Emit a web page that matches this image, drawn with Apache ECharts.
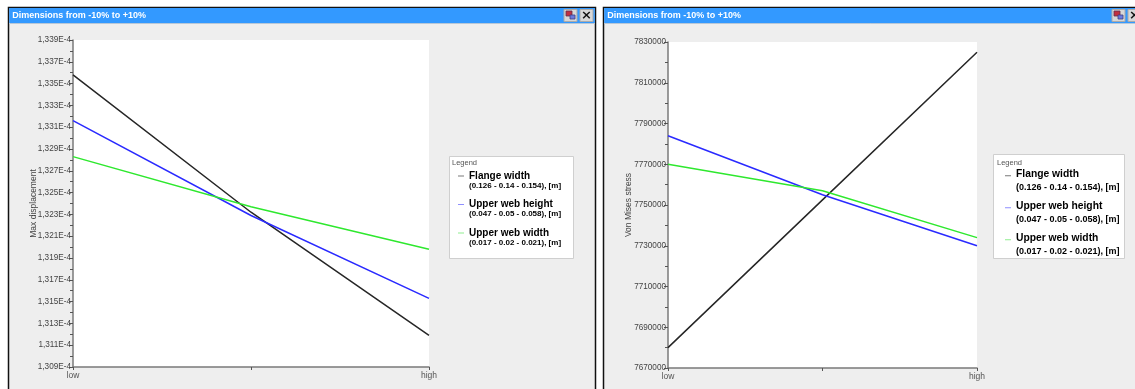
<!DOCTYPE html>
<html>
<head>
<meta charset="utf-8">
<script src="https://cdn.jsdelivr.net/npm/echarts@6/dist/echarts.min.js"></script>
<style>
html,body{margin:0;padding:0;background:#fff;}
#c{width:1135px;height:389px;}
</style>
</head>
<body>
<div id="c"></div>
<script>
// ---- data ----
const xLabels = ['low', '', 'high'];
const seriesNames = ['Flange width', 'Upper web height', 'Upper web width'];
const seriesRanges = ['(0.126 - 0.14 - 0.154), [m]', '(0.047 - 0.05 - 0.058), [m]', '(0.017 - 0.02 - 0.021), [m]'];
// Max displacement, in units of 1E-4
const dispFlangeE4 = [1.3358, 1.3232, 1.3119];
const dispWebHeightE4 = [1.3316, 1.3229, 1.3153];
const dispWebWidthE4 = [1.3283, 1.3237, 1.3198];
// Von Mises stress
const vmFlange = [7680000, 7752500, 7825000];
const vmWebHeight = [7784000, 7755000, 7730000];
const vmWebWidth = [7770000, 7757000, 7734000];

const lineColors = ['#262626', '#2a2aff', '#2ee82e'];
const legendColors = ['#7a7a7a', '#8f8fff', '#8fee8f'];
const FONT = 'Liberation Sans';

const chart = echarts.init(document.getElementById('c'), null, {renderer: 'canvas'});

function mkLegend(left, top, aSize, aLH, bSize, bLH, gap, iconH) {
  return {
    orient: 'vertical',
    left: left, top: top,
    itemGap: gap,
    itemWidth: 6, itemHeight: iconH,
    icon: 'path://M0,0h10v1.8h-10zM0,' + (iconH) + 'h0.05v0.05h-0.05z',
    textStyle: {
      fontFamily: FONT, color: '#000',
      rich: {
        a: {fontSize: aSize, fontWeight: 'bold', lineHeight: aLH, fontFamily: FONT, color: '#000'},
        b: {fontSize: bSize, fontWeight: 'bold', lineHeight: bLH, fontFamily: FONT, color: '#000'}
      }
    },
    formatter: function (name) {
      const i = seriesNames.indexOf(name.replace(/ $/, ''));
      return '{a|' + seriesNames[i] + '}\n{b|' + seriesRanges[i] + '}';
    },
    selectedMode: false
  };
}

function yAxisCommon(gridIndex, name, nameGap, min, max, interval, fmt) {
  return {
    type: 'value', gridIndex: gridIndex,
    min: min, max: max, interval: interval,
    name: name, nameLocation: 'middle', nameRotate: 90, nameGap: nameGap,
    nameMoveOverlap: false,
    nameTextStyle: {fontFamily: FONT, fontSize: 8.5, color: '#444'},
    axisLine: {show: true, lineStyle: {color: '#7a7a7a', width: 1.5}},
    axisTick: {show: true, length: 4, lineStyle: {color: '#555'}},
    minorTick: {show: true, splitNumber: 2, length: 3, lineStyle: {color: '#555'}},
    splitLine: {show: false},
    axisLabel: {fontFamily: FONT, fontSize: 8.2, color: '#444', margin: 2, formatter: fmt}
  };
}

function xAxisCommon(gridIndex) {
  return {
    type: 'category', gridIndex: gridIndex, data: xLabels, boundaryGap: false,
    axisLine: {show: true, lineStyle: {color: '#7a7a7a', width: 1.5}},
    axisTick: {show: true, length: 3, inside: false, lineStyle: {color: '#555'}},
    axisLabel: {fontFamily: FONT, fontSize: 8.5, color: '#555', margin: 4, interval: 0},
    splitLine: {show: false}
  };
}

function mkSeries(name, data, color, xi, yi) {
  return {
    type: 'line', name: name, data: data, xAxisIndex: xi, yAxisIndex: yi,
    symbol: 'none', smooth: false, animation: false,
    lineStyle: {color: color, width: 1.5}, itemStyle: {color: color}
  };
}

// names for right chart need to be distinct for separate legends
const rightNames = seriesNames.map(n => n + ' ');

function titleBar(x, w, iconX) {
  return [
    {type: 'rect', z: 50, shape: {x: x, y: 8, width: w, height: 15}, style: {fill: '#3399ff'}},
    {type: 'line', z: 50, shape: {x1: x, y1: 23.5, x2: x + w, y2: 23.5}, style: {stroke: '#b8c8d8', lineWidth: 1}},
    {type: 'text', z: 51, x: x + 3, y: 15.5, style: {text: 'Dimensions from -10% to +10%', fill: '#fff', font: 'bold 9px "Liberation Sans"', textVerticalAlign: 'middle'}},
    {type: 'rect', z: 51, shape: {x: iconX, y: 9.5, width: 13, height: 12}, style: {fill: '#d8d8d8', stroke: '#aaa', lineWidth: 1}},
    {type: 'rect', z: 52, shape: {x: iconX + 2, y: 11, width: 6, height: 5}, style: {fill: '#c03040', stroke: '#603050', lineWidth: 0.8}},
    {type: 'rect', z: 52, shape: {x: iconX + 6, y: 15, width: 5, height: 4}, style: {fill: '#6a7ae0', stroke: '#404080', lineWidth: 0.8}},
    {type: 'rect', z: 51, shape: {x: iconX + 16, y: 9.5, width: 13, height: 12}, style: {fill: '#d8d8d8', stroke: '#aaa', lineWidth: 1}},
    {type: 'text', z: 52, x: iconX + 22.5, y: 16, style: {text: '×', fill: '#111', font: 'bold 13px "DejaVu Sans"', textAlign: 'center', textVerticalAlign: 'middle'}}
  ];
}

const graphics = [
  {type: 'rect', z: -100, shape: {x: 8.5, y: 7.5, width: 587, height: 392}, style: {fill: '#eeeeee', stroke: '#111', lineWidth: 1.5}},
  {type: 'rect', z: -100, shape: {x: 603.5, y: 7.5, width: 540, height: 392}, style: {fill: '#eeeeee', stroke: '#111', lineWidth: 1.5}},
  ...titleBar(9.2, 585.6, 564),
  ...titleBar(604.2, 540, 1112),
  {type: 'rect', z: -50, shape: {x: 449.5, y: 156.5, width: 124, height: 102}, style: {fill: '#fff', stroke: '#cfcfcf', lineWidth: 1}},
  {type: 'text', z: 5, x: 452, y: 163, style: {text: 'Legend', fill: '#555', font: '7.5px "Liberation Sans"', textVerticalAlign: 'middle'}},
  {type: 'rect', z: -50, shape: {x: 993.5, y: 154.5, width: 131, height: 104}, style: {fill: '#fff', stroke: '#cfcfcf', lineWidth: 1}},
  {type: 'text', z: 5, x: 997, y: 163, style: {text: 'Legend', fill: '#555', font: '7.5px "Liberation Sans"', textVerticalAlign: 'middle'}}
];

const option = {
  animation: false,
  backgroundColor: '#ffffff',
  graphic: {elements: graphics},
  grid: [
    {left: 73, right: 1135 - 429, top: 40, bottom: 389 - 367, show: true, backgroundColor: '#ffffff', borderWidth: 0},
    {left: 668, right: 1135 - 977, top: 42, bottom: 389 - 368, show: true, backgroundColor: '#ffffff', borderWidth: 0}
  ],
  legend: [
    Object.assign(mkLegend(453, 166, 10, 10.5, 8, 8.5, 10, 16), {data: seriesNames.map((n, i) => ({name: n, itemStyle: {color: legendColors[i]}}))}),
    Object.assign(mkLegend(1000, 164, 10.3, 13, 9, 15, 8.5, 21), {data: rightNames.map((n, i) => ({name: n, itemStyle: {color: legendColors[i]}}))})
  ],
  xAxis: [xAxisCommon(0), xAxisCommon(1)],
  yAxis: [
    yAxisCommon(0, 'Max displacement', 35, 1.309, 1.339, 0.002,
      v => v.toFixed(3).replace('.', ',') + 'E-4'),
    yAxisCommon(1, 'Von Mises stress', 35, 7670000, 7830000, 20000, v => String(v))
  ],
  series: [
    mkSeries(seriesNames[0], dispFlangeE4, lineColors[0], 0, 0),
    mkSeries(seriesNames[1], dispWebHeightE4, lineColors[1], 0, 0),
    mkSeries(seriesNames[2], dispWebWidthE4, lineColors[2], 0, 0),
    mkSeries(rightNames[0], vmFlange, lineColors[0], 1, 1),
    mkSeries(rightNames[1], vmWebHeight, lineColors[1], 1, 1),
    mkSeries(rightNames[2], vmWebWidth, lineColors[2], 1, 1)
  ]
};
chart.setOption(option);
</script>
</body>
</html>
